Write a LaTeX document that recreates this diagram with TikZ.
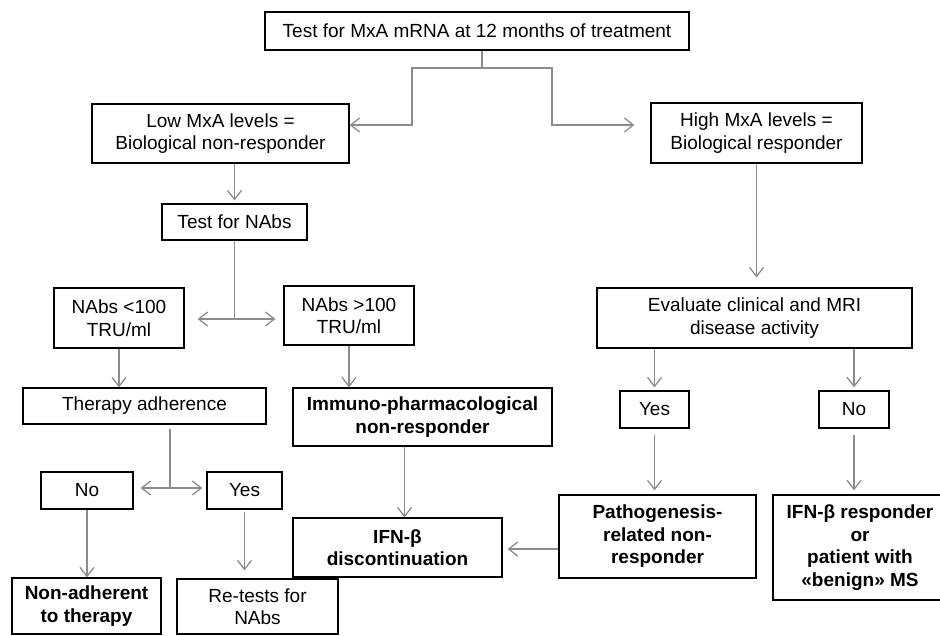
\documentclass[tikz,border=0pt]{standalone}
\usepackage{fontspec}
\setmainfont{Liberation Sans}
\usetikzlibrary{arrows.meta,calc}

\begin{document}
\begin{tikzpicture}[
  x=1pt, y=-1pt, font=\fontsize{19}{22.5}\selectfont,
  box/.style={draw, line width=1.2pt, align=center, inner sep=2pt},
  bbox/.style={box, font=\fontsize{19}{22.5}\selectfont\bfseries},
  ln/.style={draw=black!45, line width=1.3pt},
  arr/.style={ln, -{Straight Barb[length=9pt,width=14pt]}},
  arr2/.style={ln, {Straight Barb[length=9pt,width=14pt]}-{Straight Barb[length=9pt,width=14pt]}}
]
  \clip (0,0) rectangle (940,636);
  \node[box, minimum width=424pt, minimum height=38pt] (top) at (477,31) {Test for MxA mRNA at 12 months of treatment};
  \node[box, minimum width=257pt, minimum height=59pt] (low) at (220.5,133.5) {Low MxA levels =\\Biological non-responder};
  \node[box, minimum width=211pt, minimum height=60pt] (high) at (756.5,133) {High MxA levels =\\Biological responder};
  \node[box, minimum width=145pt, minimum height=36pt] (tnabs) at (234.5,222) {Test for NAbs};
  \node[box, minimum width=130pt, minimum height=60pt] (lt100) at (119,318) {NAbs <100\\TRU/ml};
  \node[box, minimum width=130pt, minimum height=59pt] (gt100) at (349,315.5) {NAbs >100\\TRU/ml};
  \node[box, minimum width=315pt, minimum height=60pt] (eval) at (754.5,318) {Evaluate clinical and MRI\\disease activity};
  \node[box, minimum width=243pt, minimum height=36pt] (adh) at (144.5,406) {Therapy adherence};
  \node[bbox, minimum width=259pt, minimum height=58pt] (immuno) at (422.5,417) {Immuno-pharmacological\\non-responder};
  \node[box, minimum width=92pt, minimum height=37pt] (no1) at (87,490.5) {No};
  \node[box, minimum width=75pt, minimum height=37pt] (yes1) at (244.5,490.5) {Yes};
  \node[bbox, minimum width=149pt, minimum height=56pt] (nonadh) at (86.5,606) {Non-adherent\\to therapy};
  \node[box, minimum width=161pt, minimum height=55pt] (retest) at (257.5,606.5) {Re-tests for\\NAbs};
  \node[bbox, minimum width=209pt, minimum height=59pt] (ifnd) at (397.5,547.5) {IFN-β\\discontinuation};
  \node[box, minimum width=69pt, minimum height=37pt] (yes2) at (654.5,409.5) {Yes};
  \node[box, minimum width=70pt, minimum height=37pt] (no2) at (854,409.5) {No};
  \node[bbox, minimum width=197pt, minimum height=83pt] (path) at (657.5,536.5) {Pathogenesis-\\related non-\\responder};
  \node[bbox, minimum width=174pt, minimum height=105pt] (ifnr) at (860,547.5) {IFN-β responder\\or\\patient with\\«benign» MS};
  % first split
  \coordinate (s1) at (482,68);
  \draw[ln] (top.south -| s1) -- (s1);
  \draw[arr] (s1) -- (412,68) |- ([yshift=8.5pt]low.east);
  \draw[arr] (s1) -- (552,68) |- ([xshift=-16pt,yshift=8pt]high.west);
  % left branch
  \draw[arr, shorten >=3pt] (tnabs.north |- low.south) -- (tnabs.north);
  \coordinate (s2) at (234,319);
  \draw[ln] (tnabs.south) -- (tnabs.south |- s2);
  \draw[arr2, shorten <=13pt, shorten >=8pt] (lt100.east |- s2) -- (gt100.west |- s2);
  \draw[arr] (lt100.south) -- (lt100.south |- adh.north);
  \draw[arr] (gt100.south) -- (gt100.south |- immuno.north);
  \coordinate (s3) at (170,488);
  \draw[ln, shorten <=4pt] (adh.south -| s3) -- (s3);
  \draw[arr2, shorten <=7pt, shorten >=4pt] (no1.east |- s3) -- (yes1.west |- s3);
  \draw[arr] (no1.south) -- (no1.south |- nonadh.north);
  \draw[arr, shorten <=2pt, shorten >=8pt] (yes1.south) -- (yes1.south |- retest.north);
  \draw[arr] ([xshift=-18pt]immuno.south) -- ([xshift=-18pt]immuno.south |- ifnd.north);
  % right branch
  \draw[arr, shorten >=10pt] (high.south) -- (high.south |- eval.north);
  \draw[arr, shorten >=3pt] (yes2.north |- eval.south) -- (yes2.north);
  \draw[arr, shorten >=3pt] (no2.north |- eval.south) -- (no2.north);
  \draw[arr, shorten <=6pt, shorten >=4pt] (yes2.south) -- (yes2.south |- path.north);
  \draw[arr, shorten <=6pt, shorten >=4pt] (no2.south) -- (no2.south |- ifnr.north);
  \draw[arr, shorten >=5pt] ([yshift=-12.5pt]path.west) -- ([yshift=-12.5pt]path.west -| ifnd.east);
\end{tikzpicture}
\end{document}
